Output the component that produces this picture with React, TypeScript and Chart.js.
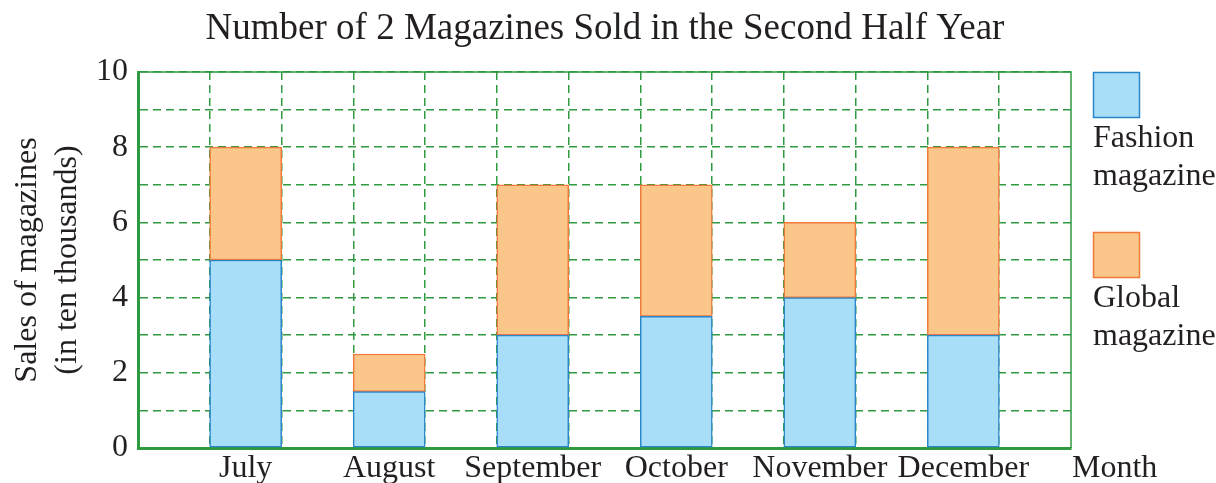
import React, { useEffect, useRef } from "react";
import { Chart, registerables } from "chart.js";

Chart.register(...registerables);

const months = ["July", "August", "September", "October", "November", "December"];
const fashionSales = [5, 1.5, 3, 3.5, 4, 3];
const globalSales = [3, 1, 4, 3.5, 2, 5];
const yTickLabels = ["0", "2", "4", "6", "8", "10"];

const titleText = "Number of 2 Magazines Sold in the Second Half Year";
const yTitleLines = ["Sales of magazines", "(in ten thousands)"];
const xUnitText = "Month";
const legendItems = [
  { lines: ["Fashion", "magazine"], fill: "#A9DEF9", stroke: "#2A86C8" },
  { lines: ["Global", "magazine"], fill: "#FAC68A", stroke: "#F07A3A" },
];

const GREEN = "#2F9A40";
const TEXT = "#231F20";
const FONT = "'Liberation Serif', 'DejaVu Serif', serif";

export default function App() {
  const ref = useRef<HTMLCanvasElement | null>(null);

  useEffect(() => {
    document.body.style.margin = "0";
    const canvas = ref.current;
    if (!canvas) return;

    const overlay = {
      id: "overlay",
      afterDraw(chart: any) {
        const { ctx, chartArea } = chart;
        ctx.save();
        ctx.strokeStyle = GREEN;
        ctx.lineWidth = 1.5;
        ctx.setLineDash([]);
        ctx.beginPath();
        ctx.moveTo(chartArea.left, chartArea.top);
        ctx.lineTo(chartArea.right, chartArea.top);
        ctx.lineTo(chartArea.right, chartArea.bottom);
        ctx.stroke();
        ctx.fillStyle = TEXT;
        ctx.font = `37px ${FONT}`;
        ctx.textAlign = "center";
        ctx.textBaseline = "middle";
        ctx.fillText(titleText, 605, 29);
        ctx.font = `32px ${FONT}`;
        ctx.textAlign = "left";
        ctx.fillText(xUnitText, 1072, 469);
        legendItems.forEach((it, i) => {
          const top = 72 + i * 160;
          ctx.fillStyle = it.fill;
          ctx.fillRect(1093.5, top + 0.5, 46, 45);
          ctx.strokeStyle = it.stroke;
          ctx.lineWidth = 1.5;
          ctx.strokeRect(1093.5, top + 0.5, 46, 45);
          ctx.fillStyle = TEXT;
          ctx.font = `32px ${FONT}`;
          ctx.textAlign = "left";
          ctx.textBaseline = "middle";
          it.lines.forEach((l, j) => ctx.fillText(l, 1093, top + 67 + j * 38));
        });
        ctx.restore();
      },
    };

    const xTicks: number[] = [];
    for (let i = 0; i < months.length; i++) {
      xTicks.push(i - 0.25, i, i + 0.25);
    }

    const barStyle = {
      borderWidth: 1.5,
      borderSkipped: false,
      barThickness: 72,
    };

    const chart = new Chart(canvas, {
      type: "bar",
      data: {
        datasets: [
          {
            label: "Fashion magazine",
            data: fashionSales.map((v, i) => ({ x: i, y: v })),
            backgroundColor: legendItems[0].fill,
            borderColor: legendItems[0].stroke,
            ...barStyle,
          },
          {
            label: "Global magazine",
            data: globalSales.map((v, i) => ({ x: i, y: v })),
            backgroundColor: legendItems[1].fill,
            borderColor: legendItems[1].stroke,
            ...barStyle,
          },
        ],
      },
      options: {
        animation: false,
        responsive: false,
        maintainAspectRatio: false,
        layout: { padding: { top: 72, right: 145, left: 0, bottom: 0 } },
        plugins: {
          legend: { display: false },
          title: { display: false },
          tooltip: { enabled: false },
        },
        scales: {
          x: {
            type: "linear",
            stacked: true,
            offset: false,
            min: -0.75,
            max: 5.75,
            afterBuildTicks: (scale: any) => {
              scale.ticks = xTicks.map((v) => ({ value: v }));
            },
            afterFit: (scale: any) => {
              scale.height = 35;
            },
            grid: {
              offset: false,
              drawTicks: false,
              color: (ctx: any) =>
                ctx.tick && Number.isInteger(ctx.tick.value) ? "rgba(0,0,0,0)" : GREEN,
              lineWidth: 1.5,
            },
            border: { display: true, color: GREEN, width: 3, dash: [8, 5] },
            ticks: {
              autoSkip: false,
              maxRotation: 0,
              padding: 1,
              color: TEXT,
              font: { family: FONT, size: 32 },
              callback: (v: any) =>
                Number.isInteger(Number(v)) ? months[Number(v)] ?? "" : "",
            },
          },
          y: {
            stacked: true,
            min: 0,
            max: 10,
            afterFit: (scale: any) => {
              scale.width = 138;
            },
            grid: { drawTicks: false, color: GREEN, lineWidth: 1.5 },
            border: { display: true, color: GREEN, width: 3, dash: [8, 5] },
            ticks: {
              autoSkip: false,
              stepSize: 1,
              padding: 10,
              color: TEXT,
              font: { family: FONT, size: 32 },
              callback: (v: any) =>
                Number(v) % 2 === 0 ? yTickLabels[Number(v) / 2] : "",
            },
            title: {
              display: true,
              text: yTitleLines,
              color: TEXT,
              font: { family: FONT, size: 32, lineHeight: 1.25 },
              padding: { top: 8, bottom: 0 },
            },
          },
        },
      },
      plugins: [overlay],
    } as any);

    return () => chart.destroy();
  }, []);

  return <canvas ref={ref} width={1216} height={483} style={{ display: "block" }} />;
}
